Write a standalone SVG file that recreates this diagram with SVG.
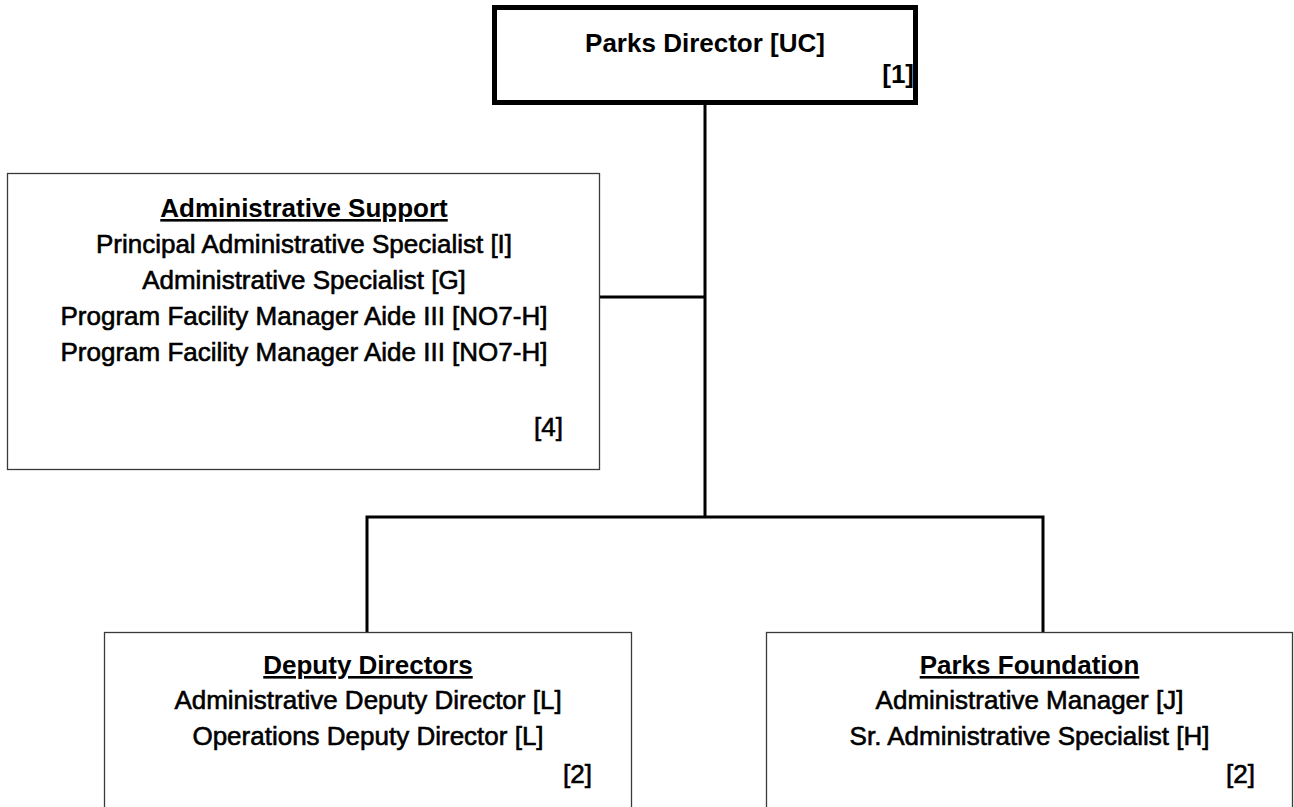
<svg xmlns="http://www.w3.org/2000/svg" width="1294" height="807" viewBox="0 0 1294 807">
  <style>
    text { font-family: "Liberation Sans", Arial, sans-serif; font-size: 26px; fill: #000; }
    .c { text-anchor: middle; }
    .r { text-anchor: end; }
    .b { font-weight: bold; }
    .h { font-weight: bold; text-decoration: underline; }
    .t { stroke: #000; stroke-width: 0.6px; }
    .box { fill: #fff; stroke: #3a3a3a; stroke-width: 1.3; }
    .top { fill: #fff; stroke: #000; stroke-width: 5; }
    .wire { fill: none; stroke: #000; stroke-width: 3; }
  </style>
  <rect width="1294" height="807" fill="#fff"/>

  <!-- reporting lines -->
  <g id="connectors">
    <line class="wire" x1="705" y1="102" x2="705" y2="517"/>
    <line class="wire" x1="600" y1="297" x2="705" y2="297"/>
    <polyline class="wire" points="367,632 367,517 1043,517 1043,632"/>
  </g>

  <g id="parks-director">
    <rect class="top" x="494.5" y="7.5" width="421" height="95"/>
    <text class="c b" x="705" y="52">Parks Director [UC]</text>
    <text class="r b" x="914" y="83">[1]</text>
  </g>

  <g id="administrative-support">
    <rect class="box" x="7.5" y="173.5" width="592" height="296"/>
    <text class="c h" x="304" y="217">Administrative Support</text>
    <text class="c t" x="304" y="253">Principal Administrative Specialist [I]</text>
    <text class="c t" x="304" y="289">Administrative Specialist [G]</text>
    <text class="c t" x="304" y="325">Program Facility Manager Aide III [NO7-H]</text>
    <text class="c t" x="304" y="361">Program Facility Manager Aide III [NO7-H]</text>
    <text class="r t" x="563" y="436">[4]</text>
  </g>

  <g id="deputy-directors">
    <rect class="box" x="104.5" y="632.5" width="527" height="190"/>
    <text class="c h" x="368" y="674">Deputy Directors</text>
    <text class="c t" x="368" y="709">Administrative Deputy Director [L]</text>
    <text class="c t" x="368" y="745">Operations Deputy Director [L]</text>
    <text class="r t" x="592" y="783">[2]</text>
  </g>

  <g id="parks-foundation">
    <rect class="box" x="766.5" y="632.5" width="526" height="190"/>
    <text class="c h" x="1029.5" y="674">Parks Foundation</text>
    <text class="c t" x="1029.5" y="709">Administrative Manager [J]</text>
    <text class="c t" x="1029.5" y="745">Sr. Administrative Specialist [H]</text>
    <text class="r t" x="1255" y="783">[2]</text>
  </g>
</svg>
